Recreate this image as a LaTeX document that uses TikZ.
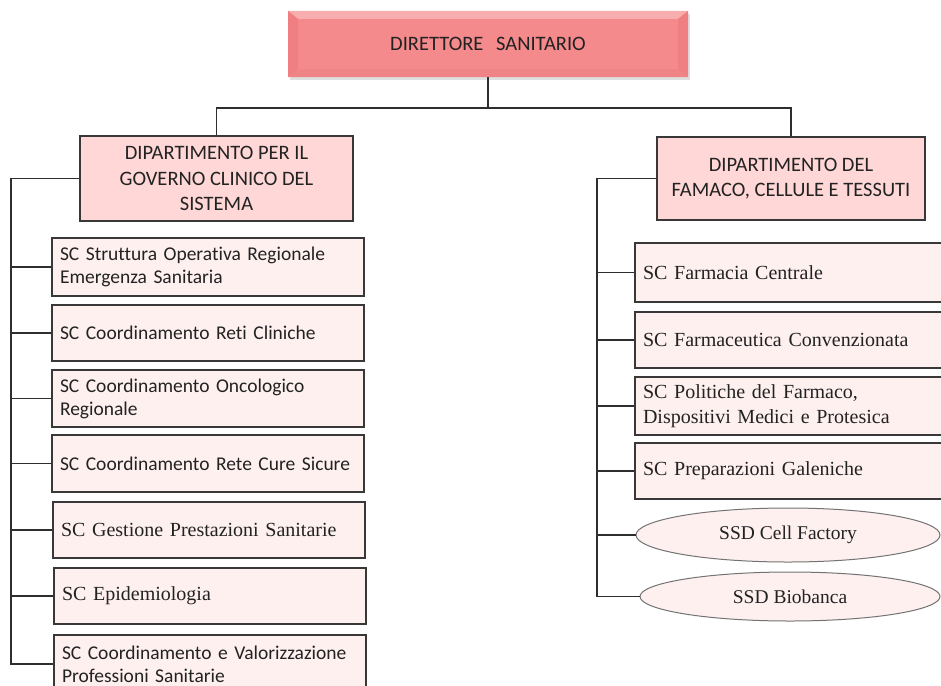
\documentclass[tikz,border=0pt]{standalone}
\usepackage{fontspec}
\setmainfont{Carlito}[Ligatures=NoCommon]
\newfontfamily\camfont{Liberation Serif}
\usetikzlibrary{shapes.geometric,shadows}
\definecolor{topfill}{HTML}{F48A8B}
\definecolor{toplight}{HTML}{F8AEAE}
\definecolor{topside}{HTML}{F07F81}
\definecolor{topdark}{HTML}{EE8486}
\definecolor{deptfill}{HTML}{FFD7D7}
\definecolor{subfill}{HTML}{FFF0F0}
\definecolor{edge}{HTML}{383838}
\definecolor{txt}{HTML}{222222}
\begin{document}
\begin{tikzpicture}[x=1pt,y=-1pt,
  conn/.style={draw=black!82, line width=1.8pt},
  topbox/.style={rectangle, fill=topfill, minimum width=400, minimum height=66, inner sep=0, text=txt,
    font=\fontsize{20.5}{25}\selectfont,
    drop shadow={opacity=0.25, shadow xshift=2pt, shadow yshift=-3pt},
    path picture={
      \fill[toplight] (path picture bounding box.north west) -- (path picture bounding box.north east)
        -- ([xshift=-10pt,yshift=-8pt]path picture bounding box.north east) -- ([xshift=10pt,yshift=-8pt]path picture bounding box.north west) -- cycle;
      \fill[topside] (path picture bounding box.north west) -- ([xshift=10pt,yshift=-8pt]path picture bounding box.north west)
        -- ([xshift=10pt,yshift=8pt]path picture bounding box.south west) -- (path picture bounding box.south west) -- cycle;
      \fill[topside] (path picture bounding box.north east) -- ([xshift=-10pt,yshift=-8pt]path picture bounding box.north east)
        -- ([xshift=-10pt,yshift=8pt]path picture bounding box.south east) -- (path picture bounding box.south east) -- cycle;
      \fill[topdark] (path picture bounding box.south west) -- (path picture bounding box.south east)
        -- ([xshift=-10pt,yshift=8pt]path picture bounding box.south east) -- ([xshift=10pt,yshift=8pt]path picture bounding box.south west) -- cycle;
    }},
  dept/.style={rectangle, draw=edge, line width=2pt, fill=deptfill, text=txt, align=center, inner sep=0,
    font=\fontsize{20.5}{25.5}\selectfont},
  subbox/.style={rectangle, draw=edge, line width=2.4pt, fill=subfill, text=txt, align=left,
    inner xsep=8pt, inner ysep=0pt, text width=296pt, minimum height=#1,
    font=\fontsize{19.5}{23}\selectfont},
  serif/.style={font=\camfont\fontsize{20}{25}\selectfont},
  ellbox/.style={ellipse, draw=black!55, line width=1pt, fill=subfill, inner sep=0pt, text=txt,
    font=\camfont\fontsize{19.5}{23}\selectfont}
]
\useasboundingbox (0,0) rectangle (941,685);
\clip (0,0) rectangle (941,685);
\fill[white] (0,0) rectangle (941,685);

% top
\node[topbox] (top) at (488,44) {DIRETTORE~\,~SANITARIO};

% departments
\node[dept, minimum width=273, minimum height=85] (ldept) at (216.5,178.5)
  {DIPARTIMENTO PER IL\\GOVERNO CLINICO DEL\\SISTEMA};
\node[dept, minimum width=268, minimum height=83] (rdept) at (791,178.5)
  {DIPARTIMENTO DEL\\FAMACO, CELLULE E TESSUTI};

% left units
\node[subbox=58] (L1) at (208,267) {SC Struttura Operativa Regionale\\Emergenza Sanitaria};
\node[subbox=56] (L2) at (208,333) {SC Coordinamento Reti Cliniche};
\node[subbox=57] (L3) at (208,398.5) {SC Coordinamento Oncologico\\Regionale};
\node[subbox=57] (L4) at (208,463.5) {SC Coordinamento Rete Cure Sicure};
\node[subbox=56, serif] (L5) at (209,530) {SC Gestione Prestazioni Sanitarie};
\node[subbox=56, serif] (L6) at (210,596) {SC Epidemiologia};
\node[subbox=58] (L7) at (210,664) {SC Coordinamento e Valorizzazione\\Professioni Sanitarie};

% right units
\node[subbox=59, serif] (R1) at (791,272.5) {SC Farmacia Centrale};
\node[subbox=56, serif] (R2) at (791,340) {SC Farmaceutica Convenzionata};
\node[subbox=58, serif] (R3) at (791,406) {SC Politiche del Farmaco,\\Dispositivi Medici e Protesica};
\node[subbox=56, serif] (R4) at (791,471) {SC Preparazioni Galeniche};
\node[ellbox, minimum width=304, minimum height=54] (E1) at (788,535) {SSD Cell Factory};
\node[ellbox, minimum width=300, minimum height=49] (E2) at (790,596.5) {SSD Biobanca};

% connectors
\coordinate (bar) at (0,108);
\coordinate (ls) at (11,0);
\coordinate (rs) at (597,0);
\draw[conn] (top.south) -- (top.south |- bar);
\draw[conn] (ldept.north) -- (ldept.north |- bar) -- (rdept.north |- bar) -- (rdept.north);
\draw[conn] (ldept.west) -- (ls |- ldept.west) -- (ls |- L7.west) -- (L7.west);
\foreach \n in {L1,L2,L3,L4,L5,L6}
  \draw[conn] (\n.west) -- (ls |- \n.west);
\draw[conn] (rdept.west) -- (rs |- rdept.west) -- (rs |- E2.west) -- (E2.west);
\foreach \n in {R1,R2,R3,R4,E1}
  \draw[conn] (\n.west) -- (rs |- \n.west);
\end{tikzpicture}
\end{document}
